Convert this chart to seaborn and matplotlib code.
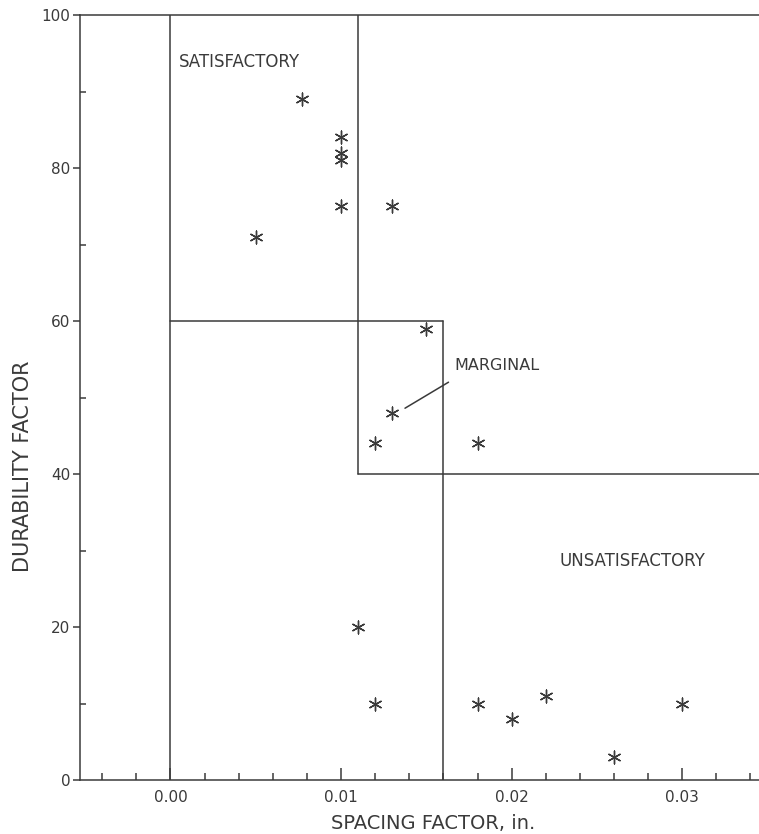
import matplotlib
matplotlib.use("Agg")
import matplotlib.pyplot as plt
import seaborn as sns
import numpy as np
import pandas as pd
from matplotlib.ticker import MultipleLocator, FixedLocator

# ---- data ----
spacing_factor = [0.005, 0.0077, 0.010, 0.010, 0.010, 0.010, 0.013, 0.015, 0.013,
                  0.012, 0.018, 0.011, 0.012, 0.018, 0.020, 0.022, 0.026, 0.030]
durability_factor = [71, 89, 84, 82, 81, 75, 75, 59, 48, 44, 44, 20, 10, 10, 8, 11, 3, 10]

# region boundaries
sat_x = [0.0, 0.0]           # left edge of satisfactory zone
sat_right = [0.011, 0.011]   # right edge of satisfactory zone
sat_right_y = [100, 40]
unsat_top_x = [0.011, 0.036]
unsat_top_y = [40, 40]
marg_top_x = [0.0, 0.016]
marg_top_y = [60, 60]
marg_right_x = [0.016, 0.016]
marg_right_y = [60, 0]

x_tick_values = [0.00, 0.01, 0.02, 0.03]
x_tick_labels = ["0.00", "0.01", "0.02", "0.03"]
y_tick_values = [0, 20, 40, 60, 80, 100]

ink = "#3a3a3a"

sns.set_theme(style="white")
plt.rcParams["font.family"] = ["DejaVu Sans"]

fig = plt.figure(figsize=(7.59, 8.34), dpi=100)
ax = fig.add_axes([80 / 759, 1 - 780 / 834, 1 - 80 / 759, (780 - 15) / 834])

df = pd.DataFrame({"x": spacing_factor, "y": durability_factor})
sns.scatterplot(data=df, x="x", y="y", marker=(6, 2, 0), s=85, color=ink,
                linewidth=1.0, ax=ax, zorder=5)

lw = 1.1
ax.plot(sat_x, [0, 100], color=ink, lw=lw)
ax.plot(sat_right, sat_right_y, color=ink, lw=lw)
ax.plot(unsat_top_x, unsat_top_y, color=ink, lw=lw)
ax.plot(marg_top_x, marg_top_y, color=ink, lw=lw)
ax.plot(marg_right_x, marg_right_y, color=ink, lw=lw)
ax.plot([0.01375, 0.0163], [48.6, 52.0], color=ink, lw=lw)

tfs = 12
ax.text(0.0005, 93.8, "SATISFACTORY", fontsize=tfs, color=ink, va="center", ha="left")
ax.text(0.01667, 54.2, "MARGINAL", fontsize=11.5, color=ink, va="center", ha="left")
ax.text(0.0228, 28.6, "UNSATISFACTORY", fontsize=tfs, color=ink, va="center", ha="left")

ax.set_xlim(-0.0053, 0.0345)
ax.set_ylim(0, 100)

ax.xaxis.set_major_locator(FixedLocator(x_tick_values))
ax.set_xticklabels(x_tick_labels)
ax.xaxis.set_minor_locator(MultipleLocator(0.002))
ax.yaxis.set_major_locator(FixedLocator(y_tick_values))
ax.yaxis.set_minor_locator(MultipleLocator(10))

ax.tick_params(axis="x", which="major", direction="in", length=9, width=1.1,
               color=ink, labelsize=11, labelcolor=ink, pad=7, bottom=True)
ax.tick_params(axis="x", which="minor", direction="in", length=5, width=1.1,
               color=ink, bottom=True)
ax.tick_params(axis="y", which="major", direction="out", length=5, width=1.1,
               color=ink, labelsize=11, labelcolor=ink, pad=2, left=True)
ax.tick_params(axis="y", which="minor", direction="in", length=4, width=1.1,
               color=ink, left=True)

for side in ["left", "bottom", "top"]:
    ax.spines[side].set_color(ink)
    ax.spines[side].set_linewidth(1.1)
ax.spines["right"].set_visible(False)

ax.set_xlabel("SPACING FACTOR, in.", fontsize=14, color=ink)
ax.set_ylabel("DURABILITY FACTOR", fontsize=15, color=ink)
ax.xaxis.set_label_coords(0.52, -0.044)
ax.yaxis.set_label_coords(-0.069, 0.41)

fig.savefig("out.png", dpi=100)
